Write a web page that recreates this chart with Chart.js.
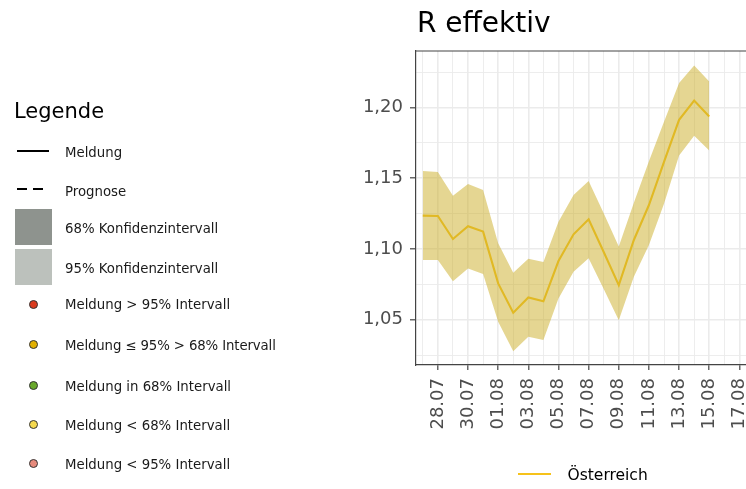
<!DOCTYPE html>
<html lang="de">
<head>
<meta charset="utf-8">
<title>R effektiv</title>
<script src="https://cdn.jsdelivr.net/npm/chart.js@4.4.1/dist/chart.umd.min.js"></script>
<style>
  html, body { margin: 0; padding: 0; background: #fff; }
  body { width: 746px; height: 489px; overflow: hidden; position: relative;
         font-family: "DejaVu Sans", sans-serif; color: #1a1a1a; }
  #chart { position: absolute; left: 0; top: 0; }
  .t { position: absolute; white-space: nowrap; line-height: 1; }
  .item { font-size: 13.3px; left: 65px; }
  .box { position: absolute; left: 15px; width: 37px; height: 36px; }
  .dot { position: absolute; left: 29px; width: 7px; height: 7px; border-radius: 50%;
         border: 1px solid #333; }
</style>
</head>
<body>
<canvas id="chart" width="800" height="489"></canvas>

<!-- Titel -->
<div class="t" style="left:417px; top:9px; font-size:28px; color:#000;">R effektiv</div>

<!-- Legende links -->
<div class="t" style="left:14px; top:100.5px; font-size:21px; color:#000;">Legende</div>

<div style="position:absolute; left:17px; top:149.5px; width:32px; height:2px; background:#000;"></div>
<div class="t item" style="top:145.5px;">Meldung</div>

<div style="position:absolute; left:17px; top:188px; width:10px; height:2px; background:#000;"></div>
<div style="position:absolute; left:33px; top:188px; width:10px; height:2px; background:#000;"></div>
<div class="t item" style="top:184.8px;">Prognose</div>

<div class="box" style="top:208.5px; background:#8e938e;"></div>
<div class="t item" style="top:221.5px;">68% Konfidenzintervall</div>
<div class="box" style="top:248.5px; background:#bcc1bc;"></div>
<div class="t item" style="top:261.5px;">95% Konfidenzintervall</div>

<div class="dot" style="top:299.5px; background:#da3b1f;"></div>
<div class="t item" style="top:298.1px;">Meldung &gt; 95% Intervall</div>
<div class="dot" style="top:340px; background:#e2b000;"></div>
<div class="t item" style="top:338.8px; letter-spacing:-0.12px;">Meldung ≤ 95% &gt; 68% Intervall</div>
<div class="dot" style="top:380.5px; background:#68a82a;"></div>
<div class="t item" style="top:379.5px;">Meldung in 68% Intervall</div>
<div class="dot" style="top:419.5px; background:#f5d94e;"></div>
<div class="t item" style="top:418.8px;">Meldung &lt; 68% Intervall</div>
<div class="dot" style="top:459px; background:#e68a7c;"></div>
<div class="t item" style="top:457.8px;">Meldung &lt; 95% Intervall</div>

<!-- Legende unten -->
<div id="serLine" style="position:absolute; left:518px; top:473.3px; width:33px; height:2px;"></div>
<div id="serName" class="t" style="left:567.5px; top:467.6px; font-size:15.5px; color:#000;"></div>

<script>
// ── Daten ─────────────────────────────────────────────────────
const SERIE = 'Österreich';

// Tage auf der x-Achse (ein Gitterstrich pro Tag)
const axisDays = ['27.07', '28.07', '29.07', '30.07', '31.07', '01.08', '02.08', '03.08',
                  '04.08', '05.08', '06.08', '07.08', '08.08', '09.08', '10.08', '11.08',
                  '12.08', '13.08', '14.08', '15.08', '16.08', '17.08', '18.08', '19.08'];
// beschriftete Tage
const majorDays = ['28.07', '30.07', '01.08', '03.08', '05.08', '07.08', '09.08',
                   '11.08', '13.08', '15.08', '17.08'];

// Meldetage mit Werten
const dates = ['27.07', '28.07', '29.07', '30.07', '31.07', '01.08', '02.08', '03.08',
               '04.08', '05.08', '06.08', '07.08', '08.08', '09.08', '10.08', '11.08',
               '12.08', '13.08', '14.08', '15.08'];
const rEff  = [1.1236, 1.1234, 1.1071, 1.1161, 1.1123, 1.0757, 1.0549, 1.0658, 1.0630, 1.0915,
               1.1104, 1.1210, 1.0979, 1.0745, 1.1064, 1.1311, 1.1616, 1.1913, 1.2050, 1.1937];
const upper = [1.1552, 1.1545, 1.1377, 1.1460, 1.1418, 1.1040, 1.0832, 1.0931, 1.0908, 1.1193,
               1.1382, 1.1481, 1.1253, 1.1017, 1.1328, 1.1620, 1.1900, 1.2173, 1.2298, 1.2185];
const lower = [1.0922, 1.0922, 1.0773, 1.0863, 1.0823, 1.0485, 1.0278, 1.0379, 1.0356, 1.0651,
               1.0839, 1.0934, 1.0717, 1.0497, 1.0804, 1.1028, 1.1320, 1.1662, 1.1800, 1.1696];

// y-Gitter (Haupt- und Nebenlinien), beschriftet nur die Hauptlinien
const yTicks = [1.025, 1.05, 1.075, 1.10, 1.125, 1.15, 1.175, 1.20, 1.225];
const yMajor = [1.05, 1.10, 1.15, 1.20];

// ── Farben ────────────────────────────────────────────────────
const LINIE  = '#f6c21a';
const BAND   = 'rgba(206, 176, 46, 0.52)';
const GITTER = '#ebebeb';
const RAHMEN = '#444';
const TEXT   = '#4d4d4d';

document.getElementById('serLine').style.background = LINIE;
document.getElementById('serName').textContent = SERIE;

const pts = arr => dates.map((d, i) => ({ x: axisDays.indexOf(d), y: arr[i] }));
const isMajorX = v => majorDays.includes(axisDays[v]);
const isMajorY = v => yMajor.some(m => Math.abs(m - v) < 1e-6);

// oberer Rahmen des Panels
const panelTop = {
    id: 'panelTop',
    afterDraw(chart) {
        const { ctx, chartArea: a } = chart;
        ctx.save();
        ctx.strokeStyle = RAHMEN;
        ctx.lineWidth = 1.2;
        ctx.beginPath();
        ctx.moveTo(a.left, a.top);
        ctx.lineTo(a.right, a.top);
        ctx.stroke();
        ctx.restore();
    },
};

new Chart(document.getElementById('chart'), {
    type: 'line',
    data: {
        datasets: [
            { label: 'unten', data: pts(lower), borderWidth: 0, pointRadius: 0, fill: false },
            { label: 'oben', data: pts(upper), borderWidth: 0, pointRadius: 0,
              fill: '-1', backgroundColor: BAND },
            { label: SERIE, data: pts(rEff), borderColor: LINIE, borderWidth: 2.1,
              pointRadius: 0, fill: false, tension: 0 },
        ],
    },
    options: {
        responsive: false,
        animation: false,
        layout: { padding: { top: 51, right: 30, bottom: 0, left: 0 } },
        plugins: { legend: { display: false }, tooltip: { enabled: false } },
        scales: {
            x: {
                type: 'linear',
                min: -0.45,
                max: 23.03,
                afterBuildTicks: s => { s.ticks = axisDays.map((d, i) => ({ value: i })); },
                afterFit: s => { s.height = 124; },
                border: { color: RAHMEN, width: 1.2 },
                grid: {
                    color: GITTER,
                    lineWidth: c => isMajorX(c.tick.value) ? 1.6 : 0.9,
                    tickLength: 5,
                    tickColor: c => isMajorX(c.tick.value) ? RAHMEN : 'rgba(0,0,0,0)',
                    tickWidth: 1.2,
                },
                ticks: {
                    autoSkip: false,
                    minRotation: 90,
                    maxRotation: 90,
                    padding: 8,
                    color: TEXT,
                    font: { family: 'DejaVu Sans', size: 18 },
                    callback: v => isMajorX(v) ? axisDays[v] : '',
                },
            },
            y: {
                min: 1.018,
                max: 1.240,
                afterBuildTicks: s => { s.ticks = yTicks.map(v => ({ value: v })); },
                afterFit: s => { s.width = 416; },
                border: { color: RAHMEN, width: 1.2 },
                grid: {
                    color: GITTER,
                    lineWidth: c => isMajorY(c.tick.value) ? 1.6 : 0.9,
                    tickLength: 6,
                    tickColor: c => isMajorY(c.tick.value) ? RAHMEN : 'rgba(0,0,0,0)',
                    tickWidth: 1.2,
                },
                ticks: {
                    padding: 7,
                    color: TEXT,
                    font: { family: 'DejaVu Sans', size: 18 },
                    callback: v => isMajorY(v) ? v.toFixed(2).replace('.', ',') : '',
                },
            },
        },
    },
    plugins: [panelTop],
});
</script>
</body>
</html>
